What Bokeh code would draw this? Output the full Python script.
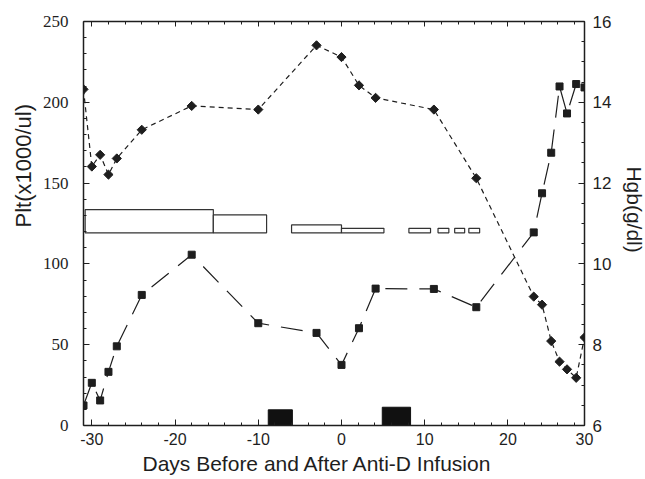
import math
from bokeh.plotting import figure
from bokeh.layouts import row
from bokeh.models import Range1d, LinearAxis, FixedTicker, Title, Label
from bokeh.embed import file_html
from bokeh.resources import INLINE

# ---------------- data ----------------
days = [-31, -30, -29, -28, -27, -24, -18, -10, -3, 0, 2.1, 4.1, 11.1, 16.2,
        23.1, 24.1, 25.2, 26.2, 27.1, 28.2, 29.2]
plt_values = [12.4, 26.4, 15.5, 33.2, 49.0, 80.8, 105.7, 63.3, 57.3, 37.5, 60.2,
              84.7, 84.5, 73.2, 119.5, 143.7, 168.8, 209.8, 193.1, 211.3, 209.2]
hgb_values = [14.32, 12.41, 12.70, 12.21, 12.61, 13.32, 13.91, 13.82, 15.41, 15.12,
              14.42, 14.11, 13.82, 12.12, 9.19, 8.99, 8.09, 7.58, 7.39, 7.18, 8.18]

# treatment bars (open boxes)
box_left = [-30.8, -15.4, -6.0, 0.0, 8.1, 11.6, 13.6, 15.3]
box_right = [-15.4, -9.0, 0.0, 5.1, 10.7, 12.9, 14.8, 16.6]
box_top = [133.6, 130.3, 124.1, 122.0, 122.0, 122.0, 122.0, 122.0]
box_bottom = [119.2] * 8

# anti-D infusions (filled boxes)
inf_left = [-8.8, 4.9]
inf_right = [-5.9, 8.3]
inf_top = [9.7, 11.3]
inf_bottom = [0, 0]

x_ticks = [-30, -20, -10, 0, 10, 20, 29.2]
x_tick_labels = ["-30", "-20", "-10", "0", "10", "20", "30"]
x_minor = [-30, -28, -26, -24, -22, -20, -18, -16, -14, -12, -10, -8, -6, -4, -2,
           0, 2, 4, 6, 8, 10, 12, 14, 16, 18, 20, 22, 24, 26, 28, 29.2]
plt_ticks = [0, 50, 100, 150, 200, 250]
plt_minor = list(range(0, 251, 10))
hgb_ticks = [6, 8, 10, 12, 14, 16]
hgb_minor = [6 + 0.5 * i for i in range(21)]

x_title = "Days Before and After Anti-D Infusion"
plt_title = "Plt(x1000/ul)"
hgb_title = "Hgb(g/dl)"

INK = "#1e1e1e"
SANS = "Liberation Sans"
SERIF = "Liberation Serif"

p = figure(width=620, height=479, x_range=Range1d(-31, 29.2), y_range=Range1d(0, 250),
           output_backend="svg", toolbar_location=None,
           min_border_left=83, min_border_right=36, min_border_top=21, min_border_bottom=54)
p.extra_y_ranges = {"hgb": Range1d(6, 16)}
p.xgrid.visible = False
p.ygrid.visible = False
p.outline_line_color = None
p.background_fill_color = "white"
p.border_fill_color = "white"


def style_axis(ax, font, size, standoff):
    ax.axis_line_color = INK
    ax.axis_line_width = 1.5
    ax.major_tick_line_color = INK
    ax.minor_tick_line_color = INK
    ax.major_tick_in = 6
    ax.major_tick_out = 0
    ax.minor_tick_in = 3
    ax.minor_tick_out = 0
    ax.major_label_text_font = font
    ax.major_label_text_font_size = size
    ax.major_label_text_color = INK
    ax.major_label_standoff = standoff


# bottom axis
xb = p.xaxis[0]
xb.ticker = FixedTicker(ticks=x_ticks, minor_ticks=x_minor)
xb.major_label_overrides = {t: l for t, l in zip(x_ticks, x_tick_labels)}
style_axis(xb, SANS, "16px", 7)

# left axis
yl = p.yaxis[0]
yl.ticker = FixedTicker(ticks=plt_ticks, minor_ticks=plt_minor)
style_axis(yl, SERIF, "17px", 15)

# right axis
yr = LinearAxis(y_range_name="hgb", ticker=FixedTicker(ticks=hgb_ticks, minor_ticks=hgb_minor))
style_axis(yr, SANS, "17px", 8)
p.add_layout(yr, "right")

# top axis (ticks only)
xt = LinearAxis(ticker=FixedTicker(ticks=x_ticks, minor_ticks=x_minor))
style_axis(xt, SANS, "1px", 0)
xt.major_label_overrides = {t: "" for t in x_ticks}
xt.major_tick_in = 5
p.add_layout(xt, "above")

# data lines
p.line(days, plt_values, line_color=INK, line_width=1.2, line_dash="22 12")
p.scatter(days, plt_values, marker="square", size=7, fill_color=INK, line_color=INK)
p.line(days, hgb_values, y_range_name="hgb", line_color=INK, line_width=1.2, line_dash="5 4")
p.scatter(days, hgb_values, y_range_name="hgb", marker="square", angle=math.pi / 4,
          size=6.5, fill_color=INK, line_color=INK)

# treatment boxes
p.quad(left=box_left, right=box_right, bottom=box_bottom, top=box_top,
       fill_color="white", line_color="#333333", line_width=1.2)
p.quad(left=inf_left, right=inf_right, bottom=inf_bottom, top=inf_top,
       fill_color="#111111", line_color="#111111", line_width=1)

# axis titles
p.add_layout(Title(text=plt_title, align="left", offset=198, standoff=7,
                   text_font=SANS, text_font_size="22px", text_font_style="normal",
                   text_color=INK), "left")
p.add_layout(Title(text=x_title, align="left", offset=59, standoff=4,
                   text_font=SANS, text_font_size="21px", text_font_style="normal",
                   text_color=INK), "below")

# narrow strip on the right carrying the Hgb axis title (reads top to bottom)
p2 = figure(width=25, height=479, x_range=Range1d(0, 25), y_range=Range1d(0, 479),
            output_backend="svg", toolbar_location=None, min_border=0,
            x_axis_type=None, y_axis_type=None)
p2.outline_line_color = None
p2.background_fill_color = "white"
p2.border_fill_color = "white"
p2.add_layout(Label(x=14, y=256, text=hgb_title, angle=-math.pi / 2,
                    text_align="center", text_baseline="middle",
                    text_font=SANS, text_font_size="21px", text_color=INK))

layout = row(p, p2)
open("out.html", "w").write(file_html(layout, INLINE))
